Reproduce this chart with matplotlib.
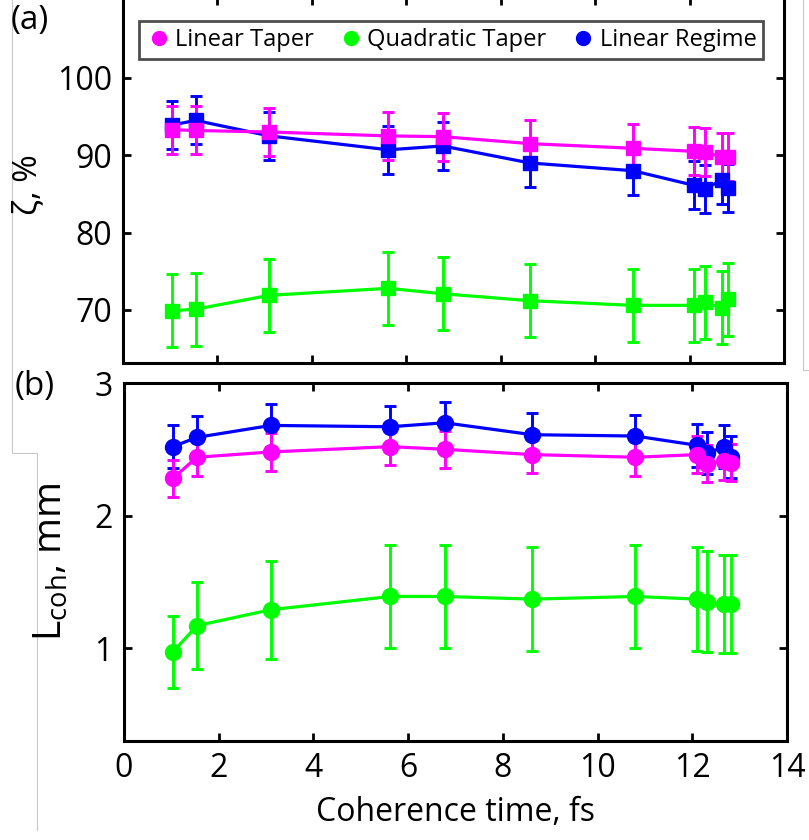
import matplotlib
matplotlib.use("Agg")
import matplotlib.pyplot as plt
from matplotlib.lines import Line2D

plt.rcParams['font.family'] = ['Open Sans', 'DejaVu Sans']
plt.rcParams['mathtext.default'] = 'regular'

# ---- data ----
coh_time = [1.03, 1.54, 3.10, 5.62, 6.77, 8.62, 10.80, 12.10, 12.32, 12.68, 12.82]

zeta_linear_taper = [93.3, 93.2, 93.0, 92.5, 92.4, 91.5, 90.9, 90.5, 90.4, 89.8, 89.8]
zeta_linear_taper_err = [3.1] * 11
zeta_quadratic_taper = [69.9, 70.1, 71.9, 72.8, 72.1, 71.2, 70.6, 70.6, 71.0, 70.3, 71.4]
zeta_quadratic_taper_err = [4.7] * 11
zeta_linear_regime = [93.9, 94.5, 92.5, 90.7, 91.2, 89.0, 88.0, 86.1, 85.6, 86.8, 85.8]
zeta_linear_regime_err = [3.1] * 11

lcoh_linear_taper = [2.28, 2.44, 2.48, 2.52, 2.50, 2.46, 2.44, 2.46, 2.39, 2.41, 2.40]
lcoh_linear_taper_err = [0.14] * 11
lcoh_quadratic_taper = [0.97, 1.17, 1.29, 1.39, 1.39, 1.37, 1.39, 1.37, 1.35, 1.33, 1.33]
lcoh_quadratic_taper_err = [0.27, 0.33, 0.37, 0.39, 0.39, 0.39, 0.39, 0.39, 0.38, 0.37, 0.37]
lcoh_linear_regime = [2.52, 2.59, 2.68, 2.67, 2.70, 2.61, 2.60, 2.53, 2.47, 2.52, 2.44]
lcoh_linear_regime_err = [0.16] * 11

series_labels = ['Linear Taper', 'Quadratic Taper', 'Linear Regime']
colors = {'Linear Taper': '#FF00FF', 'Quadratic Taper': '#00FF00', 'Linear Regime': '#0000FF'}

xticks = [0, 2, 4, 6, 8, 10, 12, 14]
yticks_a = [70, 80, 90, 100]
yticks_b = [1, 2, 3]

W, H = 809, 840
fig = plt.figure(figsize=(W / 100, H / 100), dpi=100)

def ax_rect(l, r, t, b):
    return [l / W, 1 - b / H, (r - l) / W, (b - t) / H]

ax_a = fig.add_axes(ax_rect(123, 784, -3, 363))
ax_b = fig.add_axes(ax_rect(124, 787, 383, 741))

def style(ax):
    for s in ax.spines.values():
        s.set_linewidth(2.2)
        s.set_color('black')
    ax.tick_params(direction='in', length=6, width=2, top=True, right=True,
                   labelsize=23, pad=8)
    ax.set_xlim(0, 14)
    ax.set_xticks(xticks)

ekw = dict(lw=2.3, elinewidth=2.1, capsize=4.5, capthick=2.1)

# panel (a)
for lab, y, e in [('Linear Regime', zeta_linear_regime, zeta_linear_regime_err),
                  ('Quadratic Taper', zeta_quadratic_taper, zeta_quadratic_taper_err),
                  ('Linear Taper', zeta_linear_taper, zeta_linear_taper_err)]:
    ax_a.errorbar(coh_time, y, yerr=e, color=colors[lab], marker='s', ms=10.5, **ekw)
style(ax_a)
ax_a.set_ylim(63.15, 110.45)
ax_a.set_yticks(yticks_a)
ax_a.tick_params(labelbottom=False)

handles = [Line2D([], [], ls='none', marker='o', ms=10, color=colors[l]) for l in series_labels]
leg = ax_a.legend(handles, series_labels, loc='upper center', ncol=3,
                  bbox_to_anchor=((451 - 123) / 661, (363 - 21) / 366),
                  fontsize=17, frameon=True, fancybox=False,
                  borderpad=0.3, handletextpad=0.15, columnspacing=1.0,
                  handlelength=1.1, borderaxespad=0)
leg.get_frame().set_edgecolor('#222222')
leg.get_frame().set_linewidth(2.0)

# panel (b)
for lab, y, e in [('Linear Regime', lcoh_linear_regime, lcoh_linear_regime_err),
                  ('Quadratic Taper', lcoh_quadratic_taper, lcoh_quadratic_taper_err),
                  ('Linear Taper', lcoh_linear_taper, lcoh_linear_taper_err)]:
    ax_b.errorbar(coh_time, y, yerr=e, color=colors[lab], marker='o', ms=11.5, **ekw)
style(ax_b)
ax_b.set_ylim(0.3, 3.0)
ax_b.set_yticks(yticks_b)
ax_b.set_xlabel('Coherence time, fs', fontsize=23, labelpad=8)

# y labels and panel labels
fig.text(28 / W, 1 - 185 / H, 'ζ, %', rotation=90, fontsize=24,
         ha='center', va='center')
fig.text(52 / W, 1 - 562 / H, 'L$_{coh}$, mm', rotation=90, fontsize=28,
         ha='center', va='center')
fig.text(30 / W, 1 - 20 / H, '(a)', fontsize=24, ha='center', va='center')
fig.text(35 / W, 1 - 387 / H, '(b)', fontsize=24, ha='center', va='center')

# light gray frame lines of the composite figure
gray = '#c8c8c8'
for xs, ys in [([12, 12, 37, 37], [0, 453, 453, 830]),
               ([803, 803, 809], [0, 370, 370])]:
    fig.add_artist(Line2D([x / W for x in xs], [1 - y / H for y in ys],
                          color=gray, lw=0.8))

fig.savefig('out.png', dpi=100)
